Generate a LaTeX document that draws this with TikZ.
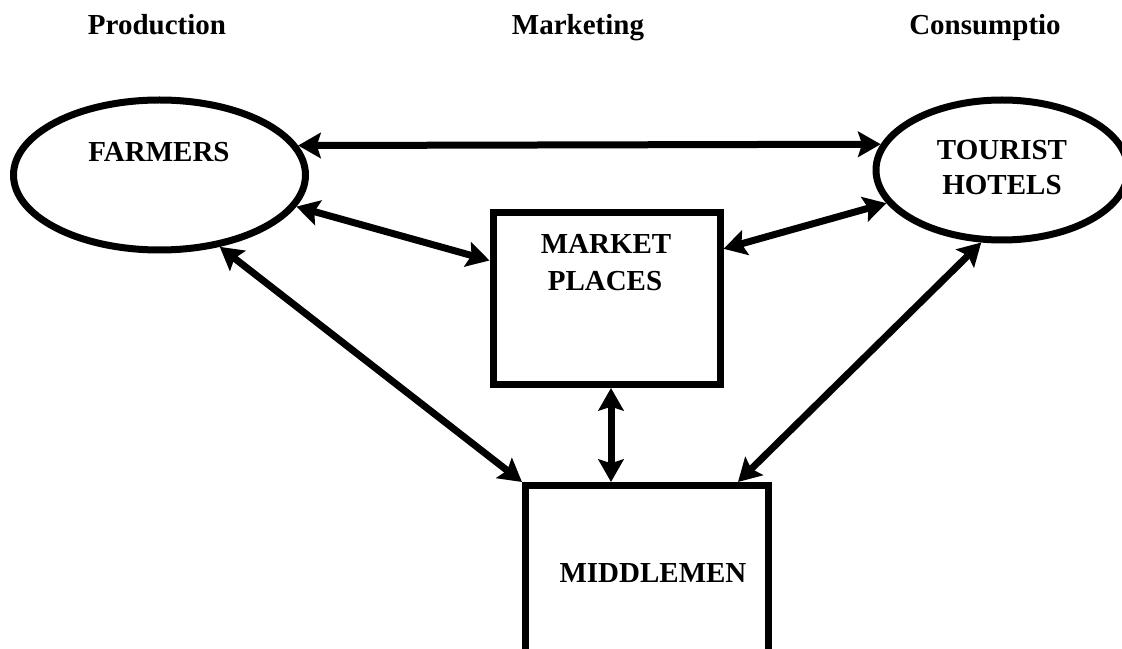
\documentclass[tikz,border=0pt]{standalone}
\usepackage{fontspec}
\setmainfont{Liberation Serif}
\usetikzlibrary{arrows.meta,shapes.geometric,calc}
\begin{document}
\begin{tikzpicture}[x=0.75pt,y=-0.75pt,
  ell/.style={ellipse, draw, line width=5.25pt, inner sep=0pt},
  boxnode/.style={rectangle, draw, line width=5.25pt, inner sep=0pt},
  lbl/.style={font=\fontsize{21.75pt}{26pt}\selectfont\bfseries, inner sep=0pt, anchor=base},
  tipend/.tip={Stealth[length=17pt,width=19pt,inset=3pt]},
  biarrow/.style={line width=5.25pt, tipend-tipend}
]
\useasboundingbox (0,0) rectangle (1122,649);

% titles
\node[lbl] (ptitle) at (157,35) {Production};
\node[lbl] (mtitle) at (578,35) {Marketing};
\node[lbl] (ctitle) at (985,35) {Consumptio};

% shapes
\node[ell, minimum width=219pt, minimum height=112.5pt] (farmers) at (159.5,175) {};
\node[ell, minimum width=189pt, minimum height=105pt] (tourist) at (1002,170) {};
\node[boxnode, minimum width=170.25pt, minimum height=129pt] (market) at (606.5,298.5) {};
\node[boxnode, minimum width=182.25pt, minimum height=183.4pt] (middlemen) at (647,607.75) {};

% labels
\node[lbl] (farmerst) at (159,162) {FARMERS};
\node[lbl] (tourist1) at (1002,160) {TOURIST};
\node[lbl] (tourist2) at (1002,195) {HOTELS};
\node[lbl] (market1) at (606,254) {MARKET};
\node[lbl] (market2) at (605,291) {PLACES};
\node[lbl] (middlet) at (653,582) {MIDDLEMEN};

% connectors
\draw[biarrow] (farmers.12) -- (tourist.168.4);
\draw[biarrow] (farmers.-13) -- (market.162.7);
\draw[biarrow] (market.23.7) -- (tourist.196.7);
\draw[biarrow] (farmers.-50.5) -- (middlemen.north west);
\coordinate (mmright) at ($(middlemen.north)+(91,0)$);
\draw[biarrow] (tourist.-106.8) -- (mmright);
\coordinate (vtop) at ($(market.south)+(4.5,0)$);
\draw[biarrow] (vtop) -- (vtop |- middlemen.north);
\end{tikzpicture}
\end{document}
